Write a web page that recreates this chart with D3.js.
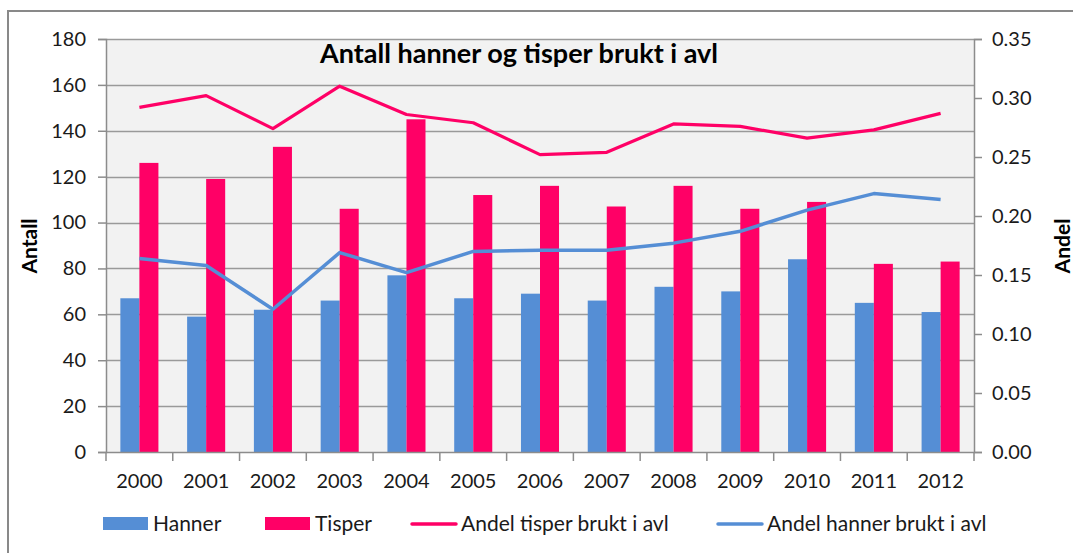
<!DOCTYPE html>
<html>
<head>
<meta charset="utf-8">
<script src="https://cdn.jsdelivr.net/npm/d3@7"></script>
<style>
body { margin: 0; background: #fff; }
svg { display: block; font-family: Lato, "Liberation Sans", sans-serif; }
</style>
</head>
<body>
<div class="chart"></div>
<script>
// data
var years = ["2000","2001","2002","2003","2004","2005","2006","2007","2008","2009","2010","2011","2012"];
var hanner = [67, 59, 62, 66, 77, 67, 69, 66, 72, 70, 84, 65, 61];
var tisper = [126, 119, 133, 106, 145, 112, 116, 107, 116, 106, 109, 82, 83];
var andelTisper = [0.292, 0.302, 0.274, 0.310, 0.286, 0.279, 0.252, 0.254, 0.278, 0.276, 0.266, 0.273, 0.287];
var andelHanner = [0.164, 0.158, 0.121, 0.169, 0.152, 0.170, 0.171, 0.171, 0.177, 0.187, 0.205, 0.219, 0.214];
var leftTicks = [0, 20, 40, 60, 80, 100, 120, 140, 160, 180];
var rightTicks = [0, 0.05, 0.10, 0.15, 0.20, 0.25, 0.30, 0.35];

var blue = "#558ed5", pink = "#ff0066";
var W = 1073, H = 553;
var mLeft = 106, mRight = 974, mTop = 39, mBottom = 452;

var svg = d3.select(".chart").append("svg").attr("width", W).attr("height", H);

// chart area border
svg.append("rect").attr("x", 8).attr("y", 11).attr("width", W).attr("height", H)
  .attr("fill", "#fff").attr("stroke", "#898989").attr("stroke-width", 2);

var x = d3.scaleBand().domain(years).range([mLeft, mRight]).paddingInner(0).paddingOuter(0);
var xb = d3.scaleBand().domain(["h", "t"]).range([0, x.bandwidth() * 0.57]);
var yL = d3.scaleLinear().domain([0, 180]).range([mBottom, mTop]);
var yR = d3.scaleLinear().domain([0, 0.35]).range([mBottom, mTop]);

svg.append("rect").attr("x", mLeft).attr("y", mTop).attr("width", mRight - mLeft).attr("height", mBottom - mTop)
  .attr("fill", "#f2f2f2");

// gridlines
svg.append("g").selectAll("line").data(leftTicks.slice(1)).enter().append("line")
  .attr("x1", mLeft).attr("x2", mRight)
  .attr("y1", function(d){return Math.round(yL(d)) + 0.5;}).attr("y2", function(d){return Math.round(yL(d)) + 0.5;})
  .attr("stroke", "#9a9a9a").attr("stroke-width", 1.3);

// bars
var off = (x.bandwidth() - xb.range()[1]) / 2;
var g = svg.append("g");
g.selectAll(".h").data(hanner).enter().append("rect").attr("class", "h")
  .attr("x", function(d, i){return x(years[i]) + off + xb("h");})
  .attr("width", xb.bandwidth())
  .attr("y", function(d){return yL(d);}).attr("height", function(d){return mBottom - yL(d);})
  .attr("fill", blue);
g.selectAll(".t").data(tisper).enter().append("rect").attr("class", "t")
  .attr("x", function(d, i){return x(years[i]) + off + xb("t");})
  .attr("width", xb.bandwidth())
  .attr("y", function(d){return yL(d);}).attr("height", function(d){return mBottom - yL(d);})
  .attr("fill", pink);

// lines
var line = d3.line().x(function(d, i){return x(years[i]) + x.bandwidth() / 2;}).y(function(d){return yR(d);});
svg.append("path").datum(andelTisper).attr("d", line).attr("fill", "none")
  .attr("stroke", pink).attr("stroke-width", 3.2).attr("stroke-linejoin", "round");
svg.append("path").datum(andelHanner).attr("d", line).attr("fill", "none")
  .attr("stroke", blue).attr("stroke-width", 3.5).attr("stroke-linejoin", "round");

// axes
var axisColor = "#8c8c8c";
var gl = svg.append("g").attr("transform", "translate(" + mLeft + ",0)")
  .call(d3.axisLeft(yL).tickValues(leftTicks).tickSize(8).tickPadding(12));
var gr = svg.append("g").attr("transform", "translate(" + mRight + ",0)")
  .call(d3.axisRight(yR).tickValues(rightTicks).tickSize(8).tickPadding(10).tickFormat(d3.format(".2f")));
var gx = svg.append("g").attr("transform", "translate(0," + mBottom + ")")
  .call(d3.axisBottom(x).tickSize(0).tickPadding(22));
// category boundary ticks
svg.append("g").selectAll("line").data(years.concat(["end"])).enter().append("line")
  .attr("x1", function(d, i){return mLeft + i * x.bandwidth();})
  .attr("x2", function(d, i){return mLeft + i * x.bandwidth();})
  .attr("y1", mBottom).attr("y2", mBottom + 9)
  .attr("stroke", axisColor).attr("stroke-width", 1.5);

[gl, gr, gx].forEach(function(a) {
  a.select(".domain").attr("stroke", axisColor).attr("stroke-width", 1.5);
  a.selectAll(".tick line").attr("stroke", axisColor).attr("stroke-width", 1.5);
  a.selectAll("text").attr("font-size", 20).attr("fill", "#1a1a1a").attr("font-family", "Lato, sans-serif");
});

// title and axis titles
svg.append("text").attr("x", 519).attr("y", 63).attr("text-anchor", "middle")
  .attr("font-size", 27).attr("font-weight", "bold").attr("fill", "#000")
  .text("Antall hanner og tisper brukt i avl");
svg.append("text").attr("transform", "translate(37,246) rotate(-90)").attr("text-anchor", "middle")
  .attr("font-size", 21).attr("font-weight", "bold").text("Antall");
svg.append("text").attr("transform", "translate(1070,246) rotate(-90)").attr("text-anchor", "middle")
  .attr("font-size", 21).attr("font-weight", "bold").text("Andel");

// legend
var legend = [
  {name: "Hanner", color: blue, type: "box", x: 103},
  {name: "Tisper", color: pink, type: "box", x: 265},
  {name: "Andel tisper brukt i avl", color: pink, type: "line", x: 411},
  {name: "Andel hanner brukt i avl", color: blue, type: "line", x: 717}
];
var lg = svg.append("g").selectAll("g").data(legend).enter().append("g")
  .attr("transform", function(d){return "translate(" + d.x + ",524)";});
lg.filter(function(d){return d.type == "box";}).append("rect")
  .attr("x", 0).attr("y", -7).attr("width", 45).attr("height", 13).attr("fill", function(d){return d.color;});
lg.filter(function(d){return d.type == "line";}).append("line")
  .attr("x1", 1).attr("x2", 45).attr("y1", 0).attr("y2", 0)
  .attr("stroke", function(d){return d.color;}).attr("stroke-width", 3.5).attr("stroke-linecap", "round");
lg.append("text").attr("x", 50).attr("y", 7).attr("font-size", 21).attr("fill", "#1a1a1a")
  .text(function(d){return d.name;});
</script>
</body>
</html>
